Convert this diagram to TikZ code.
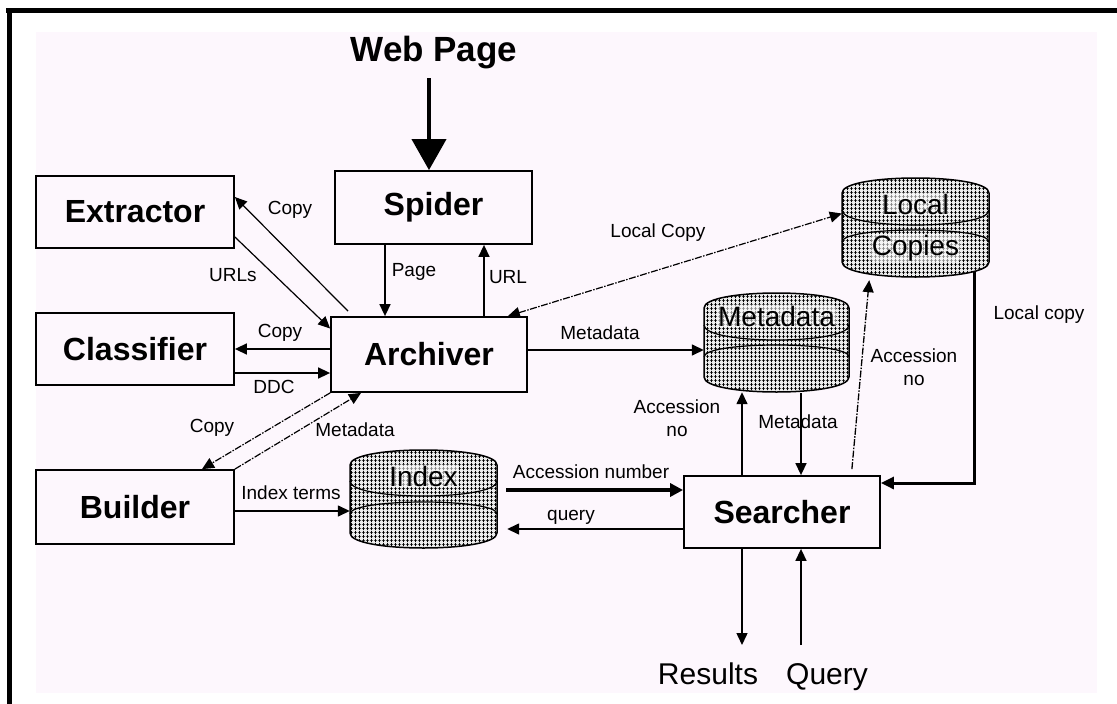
\documentclass[tikz,border=0pt]{standalone}
\usepackage{fontspec}
\setmainfont{Liberation Sans}
\usetikzlibrary{arrows.meta,patterns.meta,calc}
\definecolor{pinkbg}{RGB}{253,247,253}
\begin{document}
\begin{tikzpicture}[x=1pt,y=-1pt,
  box/.style={draw,line width=1.8pt,inner sep=0,font=\fontsize{32}{34}\selectfont\bfseries},
  arr/.style={line width=1.5pt,-{Triangle[length=12pt,width=11pt]}},
  dotarr/.style={arr,dash pattern=on 7pt off 1.5pt on 1.5pt off 1.5pt},
  lbl/.style={inner sep=0,font=\fontsize{19}{23}\selectfont,align=center},
  biglbl/.style={inner sep=0,font=\fontsize{30}{32}\selectfont,anchor=base},
  cyltext/.style={inner sep=1pt,font=\fontsize{28}{30}\selectfont,fill=white,fill opacity=0.55,text opacity=1,rounded corners=3pt},
  cylfill/.style={pattern={Hatch[distance=4pt,angle=0,line width=0.9pt]},pattern color=black},
  cylline/.style={draw,line width=1.5pt},
  cylnode/.style={inner sep=0}
]
\useasboundingbox (0,0) rectangle (1117,704);
\fill[white] (0,0) rectangle (1117,704);
\fill[pinkbg] (36,32) rectangle (1097,693);
\fill[black] (6,8) rectangle (1117,13);
\fill[black] (7,8) rectangle (12,704);

% boxes
\node[box,minimum width=198pt,minimum height=72pt] (extractor) at (135,212) {Extractor};
\node[box,minimum width=198pt,minimum height=72pt] (classifier) at (135,349) {Classifier};
\node[box,minimum width=198pt,minimum height=74pt] (builder) at (135,507) {Builder};
\node[box,minimum width=197pt,minimum height=73pt] (spider) at (433.5,207.5) {Spider};
\node[box,minimum width=196pt,minimum height=75pt] (archiver) at (429,354.5) {Archiver};
\node[box,minimum width=196pt,minimum height=72pt] (searcher) at (782,512) {Searcher};

% cylinders
% Local Copies: L842 T178 R989 B277
\node[cylnode,minimum width=147pt,minimum height=99pt] (localcopies) at (915.5,227.5) {};
\fill[gray!15] (842,193) .. controls (842,173) and (989,173) .. (989,193) -- (989,262) .. controls (989,282) and (842,282) .. (842,262) -- cycle;
\path[cylfill] (842,193) .. controls (842,173) and (989,173) .. (989,193) -- (989,262) .. controls (989,282) and (842,282) .. (842,262) -- cycle;
\path[cylline] (842,193) .. controls (842,173) and (989,173) .. (989,193) -- (989,262) .. controls (989,282) and (842,282) .. (842,262) -- cycle;
\path[cylline,line width=1.2pt] (842,210) .. controls (842,230) and (989,230) .. (989,210);
\path[cylline,line width=1.2pt] (842,242) .. controls (842,226) and (989,226) .. (989,242);
\node[cyltext] at (915.5,204) {Local};
\node[cyltext] at (915.5,248) {Copies};
% Metadata: L704 T293 R849 B392
\node[cylnode,minimum width=145pt,minimum height=99pt] (metadata) at (776.5,342.5) {};
\fill[gray!15] (704,308) .. controls (704,288) and (849,288) .. (849,308) -- (849,377) .. controls (849,397) and (704,397) .. (704,377) -- cycle;
\path[cylfill] (704,308) .. controls (704,288) and (849,288) .. (849,308) -- (849,377) .. controls (849,397) and (704,397) .. (704,377) -- cycle;
\path[cylline] (704,308) .. controls (704,288) and (849,288) .. (849,308) -- (849,377) .. controls (849,397) and (704,397) .. (704,377) -- cycle;
\path[cylline,line width=1.2pt] (704,325) .. controls (704,345) and (849,345) .. (849,325);
\path[cylline,line width=1.2pt] (704,357) .. controls (704,341) and (849,341) .. (849,357);
\node[cyltext] at (776.5,316) {Metadata};
% Index: L350 T450 R497 B548
\node[cylnode,minimum width=147pt,minimum height=98pt] (index) at (423.5,499) {};
\fill[gray!15] (350,465) .. controls (350,445) and (497,445) .. (497,465) -- (497,533) .. controls (497,553) and (350,553) .. (350,533) -- cycle;
\path[cylfill] (350,465) .. controls (350,445) and (497,445) .. (497,465) -- (497,533) .. controls (497,553) and (350,553) .. (350,533) -- cycle;
\path[cylline] (350,465) .. controls (350,445) and (497,445) .. (497,465) -- (497,533) .. controls (497,553) and (350,553) .. (350,533) -- cycle;
\path[cylline,line width=1.2pt] (350,481) .. controls (350,501) and (497,501) .. (497,481);
\path[cylline,line width=1.2pt] (350,514) .. controls (350,498) and (497,498) .. (497,514);
\node[cyltext] at (423.5,476) {Index};

% texts
\node[inner sep=0,font=\fontsize{35}{37}\selectfont\bfseries] (webpage) at (434,53) {Web Page};
\node[biglbl] (results) at (708,684) {Results};
\node[biglbl] (query) at (827,684) {Query};
\coordinate (wstart) at (429,78);
\coordinate (rtip) at (742,645);
\coordinate (qstart) at (801,645);

% connectors
\draw[line width=4pt,-{Triangle[length=31pt,width=34pt]}] (wstart) -- (spider.north -| wstart);
\draw[arr] (spider.south -| 385,0) -- (archiver.north -| 385,0);
\draw[arr] (archiver.north -| 484,0) -- (spider.south -| 484,0);
\draw[arr,line width=1.2pt] ([yshift=-25pt]extractor.east) -- ([yshift=26pt]archiver.west);
\draw[arr,line width=1.2pt] ([xshift=-81pt,yshift=5pt]archiver.north) -- ([yshift=15pt]extractor.east);
\draw[arr] (archiver.west |- classifier.east) -- (classifier.east);
\draw[arr] (classifier.east |- 0,373) -- (archiver.west |- 0,373);
\draw[dotarr,line width=1.2pt] (archiver.south west) -- ([xshift=67pt]builder.north);
\draw[dotarr,line width=1.2pt] (builder.north east) -- ([xshift=-68pt]archiver.south);
\draw[arr] (builder.east |- 0,511) -- (index.west |- 0,511);
\draw[arr] (archiver.east |- 0,350) -- (metadata.west |- 0,350);
\draw[dotarr,line width=1.2pt,{Triangle[length=12pt,width=11pt]}-{Triangle[length=12pt,width=11pt]}] ([xshift=-20pt]archiver.north east) -- ([yshift=14pt]localcopies.west);
\draw[line width=3.2pt,-{Triangle[length=13pt,width=13pt]},shorten <=9pt] (index.east |- 0,490) -- (searcher.west |- 0,490);
\draw[arr,shorten >=10pt] (searcher.west |- 0,529) -- (index.east |- 0,529);
\draw[arr] (searcher.north -| 742,0) -- (metadata.south -| 742,0);
\draw[arr,shorten <=1pt] (metadata.south -| 801,0) -- (searcher.north -| 801,0);
\draw[dotarr,line width=1.3pt,shorten >=3pt] ([xshift=-29pt,yshift=6pt]searcher.north east) -- ([xshift=-46pt]localcopies.south);
\draw[line width=3pt,-{Triangle[length=13pt,width=12pt]}] ([xshift=58.5pt,yshift=6pt]localcopies.south) |- ([yshift=29pt]searcher.east);
\draw[arr] (searcher.south -| rtip) -- (rtip);
\draw[arr] (qstart) -- (searcher.south -| qstart);

% labels
\node[lbl] at (290,210) {Copy};
\node[lbl] at (233,275) {URLs};
\node[lbl] at (414,272) {Page};
\node[lbl] at (508,277) {URL};
\node[lbl] at (658,233) {Local Copy};
\node[lbl] at (280,333) {Copy};
\node[lbl] at (274,387) {DDC};
\node[lbl] at (600,333) {Metadata};
\node[lbl] at (212,428) {Copy};
\node[lbl] at (355,430) {Metadata};
\node[lbl] at (291,493) {Index terms};
\node[lbl] at (591,472) {Accession number};
\node[lbl] at (571,517) {query};
\node[lbl] at (677,418.5) {Accession\\no};
\node[lbl] at (798,422) {Metadata};
\node[lbl] at (914,367.5) {Accession\\no};
\node[lbl] at (1039,315) {Local copy};
\end{tikzpicture}
\end{document}
